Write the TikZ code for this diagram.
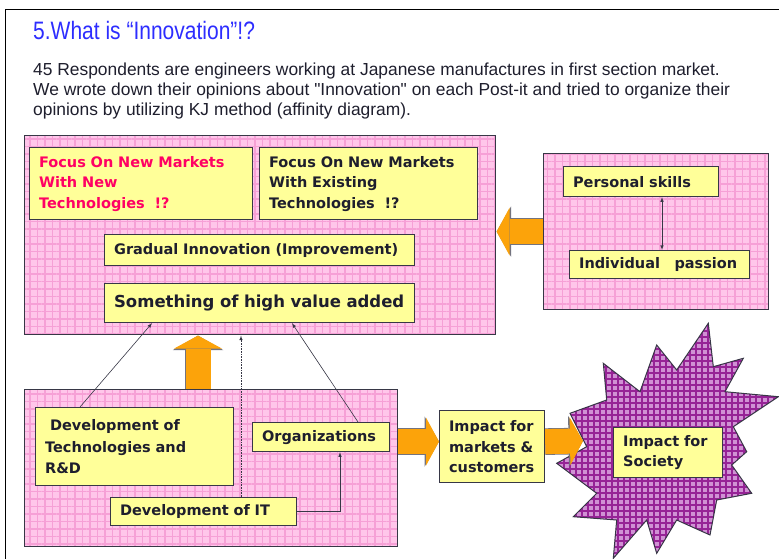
\documentclass[tikz,border=0pt]{standalone}
\usepackage{fontspec}
\setmainfont{Liberation Sans}
\newfontfamily\boxfont{DejaVu Sans}
\newfontfamily\quotefont{Liberation Sans}
\usetikzlibrary{arrows.meta,patterns.meta}
\tikzset{>=latex}

\definecolor{pinkfill}{RGB}{255,198,234}
\definecolor{pinkgrid}{RGB}{246,160,214}
\definecolor{yel}{RGB}{255,255,153}
\definecolor{boxline}{RGB}{55,55,70}
\definecolor{boxtext}{RGB}{30,30,45}
\definecolor{orng}{RGB}{252,163,10}
\definecolor{titleblue}{RGB}{45,45,255}
\definecolor{hotred}{RGB}{255,0,100}
\definecolor{burstfill}{RGB}{208,145,212}
\definecolor{burstgrid}{RGB}{150,35,150}

\tikzset{
    pinkbox/.style={draw=boxline, line width=1.2pt, preaction={fill=pinkfill},
        pattern={Hatch[distance=7.5pt, line width=1.6pt]}, pattern color=pinkgrid,
        anchor=north west, inner sep=0pt},
    ybox/.style={draw=boxline, line width=1.2pt, fill=yel, anchor=north west,
        align=left, inner xsep=9.5pt, inner ysep=0pt, text=boxtext,
        font=\boxfont\bfseries\fontsize{14.5}{20.5}\selectfont},
    fatarrow/.style={draw=orng, line width=25pt,
        -{Triangle[length=13pt, width=48pt, line width=0pt]},
        preaction={draw=boxline!70, line width=26.6pt,
            -{Triangle[length=14.5pt, width=50.5pt, line width=0pt]}}},
    link/.style={draw=boxline, line width=0.6pt},
    burst/.style={draw=boxline, line width=1pt, preaction={fill=burstfill},
        pattern={Hatch[distance=6pt, line width=1.2pt]}, pattern color=burstgrid},
}

\begin{document}
\begin{tikzpicture}[x=1pt, y=-1pt]
    \useasboundingbox (0,0) rectangle (779,559);
    \draw[line width=1pt] (779,10) -| (5,559);

    \node[anchor=base west, inner sep=0pt, text=titleblue, font=\fontsize{21}{25}\selectfont] (title) at (33,40)
        {\scalebox{1}[1.2]{5.What is “Innovation”!?}};
    \node[anchor=north west, inner sep=0pt, align=left, text=boxtext, font=\fontsize{17.4}{20}\selectfont] (intro) at (33,62.5)
        {45 Respondents are engineers working at Japanese manufactures in first section market.\\
         We wrote down their opinions about {\quotefont"}Innovation{\quotefont"} on each Post-it and tried to organize their\\
         opinions by utilizing KJ method (affinity diagram).};

    % groups
    \node[pinkbox, minimum width=471pt, minimum height=199pt] (tbox) at (24,135) {};
    \node[pinkbox, minimum width=225pt, minimum height=156pt] (rbox) at (543,153) {};
    \node[pinkbox, minimum width=373pt, minimum height=157pt] (bbox) at (24,389) {};

    \node[ybox, text width=204pt, minimum height=72pt, text=hotred] (fnmnew) at (29,147)
        {Focus On New Markets\\With New\\Technologies\ \ !?};
    \node[ybox, text width=199pt, minimum height=72pt] (fnmold) at (259,147)
        {Focus On New Markets\\With Existing\\Technologies\ \ !?};
    \node[ybox, text width=291pt, minimum height=31pt] (gradual) at (104,234) {Gradual Innovation (Improvement)};
    \node[ybox, text width=291pt, minimum height=39pt, font=\boxfont\bfseries\fontsize{16.5}{20}\selectfont] (value) at (104,283) {Something of high value added};

    \node[ybox, text width=136pt, minimum height=30pt] (pskill) at (563,166) {Personal skills};
    \node[ybox, text width=161pt, minimum height=28pt] (ipass) at (569,250) {Individual\ \ \ passion};

    \node[ybox, text width=179pt, minimum height=78pt, font=\boxfont\bfseries\fontsize{14.5}{21.5}\selectfont] (devtech) at (35,407)
        {\hspace{5pt}Development of\\Technologies and\\R\&D};
    \node[ybox, text width=118pt, minimum height=29pt] (org) at (252,422) {Organizations};
    \node[ybox, text width=167pt, minimum height=28pt] (devit) at (110,497) {Development of IT};

    \node[ybox, text width=86pt, minimum height=72pt] (imkt) at (439,410) {Impact for\\markets \&\\customers};

    \draw[burst] (708.3,323.3) -- (713.3,366.7) -- (743.3,358.3) -- (725,391.7) -- (778.3,396.7)
        -- (733.3,426.7) -- (746.7,451.7) -- (731.7,465) -- (751.7,493.3) -- (716.7,500)
        -- (710,535) -- (676.7,520) -- (656.7,553.3) -- (646.7,520) -- (613.3,558.3)
        -- (616.7,520) -- (573.3,516.7) -- (596.7,493.3) -- (556.7,463.3) -- (586.7,446.7)
        -- (570,413.3) -- (606.7,400) -- (603.3,363.3) -- (640,391.7) -- (656.7,345)
        -- (676.7,370) -- cycle;
    \coordinate (burstin) at (583,441);
    \node[ybox, text width=90pt, minimum height=50pt] (isoc) at (613,427) {Impact for\\Society};

    % big arrows
    \draw[fatarrow] (rbox.west) -- (rbox.west -| tbox.east);
    \coordinate (upfoot) at ([xshift=174pt]bbox.north west);
    \draw[fatarrow] (upfoot) -- (upfoot |- tbox.south);
    \draw[fatarrow] ([yshift=5pt]imkt.west -| bbox.east) -- ([yshift=5pt]imkt.west);
    \draw[fatarrow] ([yshift=5pt]imkt.east) -- (burstin);

    % thin links
    \coordinate (pp) at ([xshift=93pt]ipass.north west);
    \draw[link, <->] (pp) -- (pp |- pskill.south);
    \draw[link, ->] ([xshift=45pt]devtech.north west) -- ([xshift=48pt]value.south west);
    \draw[link, ->] ([xshift=106pt]org.north west) -- ([xshift=188pt]value.south west);
    \coordinate (itup) at ([xshift=131pt]devit.north west);
    \draw[link, densely dotted, ->] (itup) -- (itup |- tbox.south);
    \draw[link, ->] (devit.east) -| ([xshift=88pt]org.south west);
\end{tikzpicture}
\end{document}
